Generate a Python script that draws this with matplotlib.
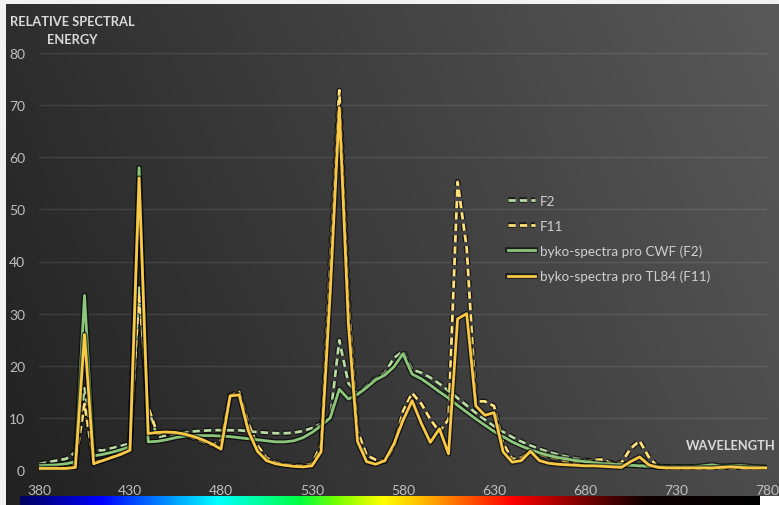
import numpy as np
import matplotlib
matplotlib.use("Agg")
import matplotlib.pyplot as plt
import matplotlib.patheffects as pe
from matplotlib.colors import LinearSegmentedColormap
from matplotlib.patches import Rectangle

plt.rcParams["font.family"] = ["Lato", "DejaVu Sans"]

# wavelength grid, 5 nm steps
wavelength = np.arange(380, 781, 5)

# CIE F2 (cool white fluorescent)
f2 = [1.18, 1.48, 1.84, 2.15, 3.44, 15.69, 3.85, 3.74, 4.19, 4.62, 5.06, 34.98,
      11.81, 6.27, 6.63, 6.93, 7.19, 7.40, 7.54, 7.62, 7.65, 7.62, 7.62, 7.45,
      7.28, 7.15, 7.05, 7.04, 7.16, 7.47, 8.04, 8.88, 10.01, 24.88, 16.64, 14.59,
      16.16, 17.56, 18.62, 21.47, 22.79, 19.29, 18.66, 17.73, 16.54, 15.21, 13.80,
      12.36, 10.95, 9.65, 8.40, 7.32, 6.31, 5.43, 4.68, 4.02, 3.45, 2.96, 2.55,
      2.19, 1.89, 1.64, 1.53, 1.27, 1.10, 0.99, 0.88, 0.76, 0.68, 0.61, 0.56,
      0.54, 0.51, 0.47, 0.47, 0.43, 0.46, 0.47, 0.40, 0.33, 0.27]

# CIE F11 (TL84)
f11 = [0.91, 0.63, 0.46, 0.37, 1.29, 12.68, 1.59, 1.79, 2.46, 3.33, 4.49, 33.94,
       12.13, 6.95, 7.19, 7.12, 6.72, 6.13, 5.46, 4.79, 5.66, 14.29, 14.96, 8.97,
       4.72, 2.33, 1.47, 1.10, 0.89, 0.83, 1.18, 4.90, 39.59, 72.84, 32.61, 7.52,
       2.83, 1.96, 1.67, 4.43, 11.28, 14.76, 12.73, 9.74, 7.33, 9.72, 55.27, 42.58,
       13.18, 13.16, 12.26, 5.11, 2.07, 2.34, 3.58, 3.01, 2.48, 2.14, 1.54, 1.33,
       1.46, 1.94, 2.00, 1.20, 1.35, 4.10, 5.58, 2.51, 0.57, 0.27, 0.23, 0.21,
       0.24, 0.24, 0.20, 0.24, 0.32, 0.26, 0.16, 0.12, 0.09]

# measured: byko-spectra pro CWF (F2)
cwf = [0.8, 0.9, 1.0, 1.2, 1.6, 33.5, 2.7, 3.0, 3.4, 3.9, 4.4, 58.0,
       5.4, 5.5, 5.8, 6.2, 6.5, 6.6, 6.6, 6.6, 6.5, 6.4, 6.2, 6.0,
       5.8, 5.6, 5.4, 5.4, 5.6, 6.2, 7.2, 8.5, 10.0, 15.5, 13.6, 14.5,
       15.8, 17.3, 18.2, 19.8, 22.3, 18.4, 17.5, 16.3, 15.0, 13.8, 12.4,
       11.1, 9.8, 8.6, 7.4, 6.4, 5.4, 4.6, 3.9, 3.3, 2.8, 2.4, 2.1,
       1.8, 1.6, 1.4, 1.2, 1.1, 1.0, 0.9, 0.8, 0.7, 0.7, 0.6, 0.6,
       0.6, 0.6, 0.8, 1.0, 0.7, 0.8, 0.9, 0.7, 0.6, 0.5]

# measured: byko-spectra pro TL84 (F11)
tl84 = [0.3, 0.3, 0.3, 0.3, 0.5, 26.0, 1.2, 1.8, 2.4, 3.0, 3.8, 56.0,
        7.0, 7.2, 7.3, 7.2, 6.9, 6.4, 5.8, 5.0, 4.0, 14.2, 14.4, 7.5,
        3.6, 1.8, 1.2, 0.9, 0.7, 0.6, 0.8, 3.5, 34.0, 69.5, 28.0, 5.5,
        1.6, 1.1, 1.8, 5.0, 9.5, 13.3, 9.0, 5.3, 7.9, 3.1, 29.0, 30.0,
        12.3, 10.5, 11.0, 3.5, 1.5, 1.8, 3.6, 1.8, 1.3, 1.1, 1.0, 0.9,
        0.8, 0.8, 0.7, 0.6, 0.5, 1.6, 2.5, 1.0, 0.5, 0.4, 0.4, 0.4,
        0.4, 0.4, 0.4, 0.5, 0.6, 0.5, 0.4, 0.4, 0.4]

x_ticks = [380, 430, 480, 530, 580, 630, 680, 730, 780]
y_ticks = [0, 10, 20, 30, 40, 50, 60, 70, 80]

W, H = 779, 506
fig = plt.figure(figsize=(W / 100, H / 100), dpi=100)

# dark gradient background
bg = fig.add_axes([0, 0, 1, 1], zorder=-10)
xx, yy = np.meshgrid(np.linspace(0, 1, 200), np.linspace(0, 1, 200))
shade = 0.13 + 0.17 * xx + 0.05 * (1 - yy)
bg.imshow(np.dstack([shade, shade, shade]), aspect="auto", extent=[0, 1, 0, 1], origin="upper")
bg.set_xlim(0, 1)
bg.set_ylim(0, 1)
bg.axis("off")

# screenshot borders
fig.patches.append(Rectangle((0, 1 - 5 / H), 1, 5 / H, transform=fig.transFigure,
                             facecolor="#f2f2f2", edgecolor="none", zorder=-5))
fig.patches.append(Rectangle((0, 0), 6 / W, 1, transform=fig.transFigure,
                             facecolor="#f2f2f2", edgecolor="none", zorder=-5))
fig.patches.append(Rectangle((760 / W, 0), 19 / W, 9 / H, transform=fig.transFigure,
                             facecolor="#ffffff", edgecolor="none", zorder=-5))

# spectrum strip
spec_cmap = LinearSegmentedColormap.from_list("spec", [
    (0.0, "#000060"), (0.108, "#0000ff"), (0.266, "#00ffff"), (0.378, "#00ff40"),
    (0.432, "#80ff00"), (0.49, "#ffff00"), (0.54, "#ffc000"), (0.60, "#ff6000"),
    (0.666, "#ff0000"), (0.757, "#800000"), (0.847, "#100000"), (1.0, "#000000")])
sp = fig.add_axes([20 / W, 0, 740 / W, 9 / H])
sp.imshow(np.linspace(0, 1, 512)[None, :], cmap=spec_cmap, aspect="auto")
sp.axis("off")

ax = fig.add_axes([39 / W, 35 / H, 728 / W, 417 / H])
ax.set_facecolor("none")

shadow = [pe.withStroke(linewidth=4.0, foreground="black", alpha=0.6)]
ax.plot(wavelength, f2, color="#b7dba0", lw=2.0, dashes=(2.6, 1.5), label="F2",
        path_effects=shadow)
ax.plot(wavelength, f11, color="#ffe07a", lw=2.0, dashes=(2.6, 1.5), label="F11",
        path_effects=shadow)
ax.plot(wavelength, cwf, color="#8cc67a", lw=2.0, label="byko-spectra pro CWF (F2)",
        path_effects=shadow)
ax.plot(wavelength, tl84, color="#f8c846", lw=2.0, label="byko-spectra pro TL84 (F11)",
        path_effects=shadow)

ax.set_xlim(380, 780)
ax.set_ylim(0, 80)
ax.set_xticks(x_ticks)
ax.set_yticks(y_ticks)
ax.tick_params(length=0, colors="#bfbfbf", labelsize=10)
ax.tick_params(axis="y", pad=10)
ax.tick_params(axis="x", pad=10)
ax.grid(axis="y", color="#ffffff", alpha=0.1, lw=1)
ax.set_axisbelow(True)
for s in ax.spines.values():
    s.set_visible(False)

fig.text(10 / W, 1 - 22 / H, "RELATIVE SPECTRAL", color="#d9d9d9", fontsize=9.3,
         fontweight="bold", va="center", ha="left")
fig.text(47 / W, 1 - 40 / H, "ENERGY", color="#d9d9d9", fontsize=9.3,
         fontweight="bold", va="center", ha="left")
fig.text(776 / W, 1 - 446 / H, "WAVELENGTH", color="#d9d9d9", fontsize=9.3,
         fontweight="bold", va="center", ha="right")

leg = ax.legend(loc="upper left", bbox_to_anchor=(508 / W, 1 - 196 / H),
                bbox_transform=fig.transFigure, frameon=False, fontsize=9.7,
                handlelength=2.0, handletextpad=0.35, labelspacing=0.95,
                borderpad=0, borderaxespad=0)
for t in leg.get_texts():
    t.set_color("#d0d0d0")

plt.savefig("out.png", dpi=100, facecolor="#333333")
plt.close(fig)
